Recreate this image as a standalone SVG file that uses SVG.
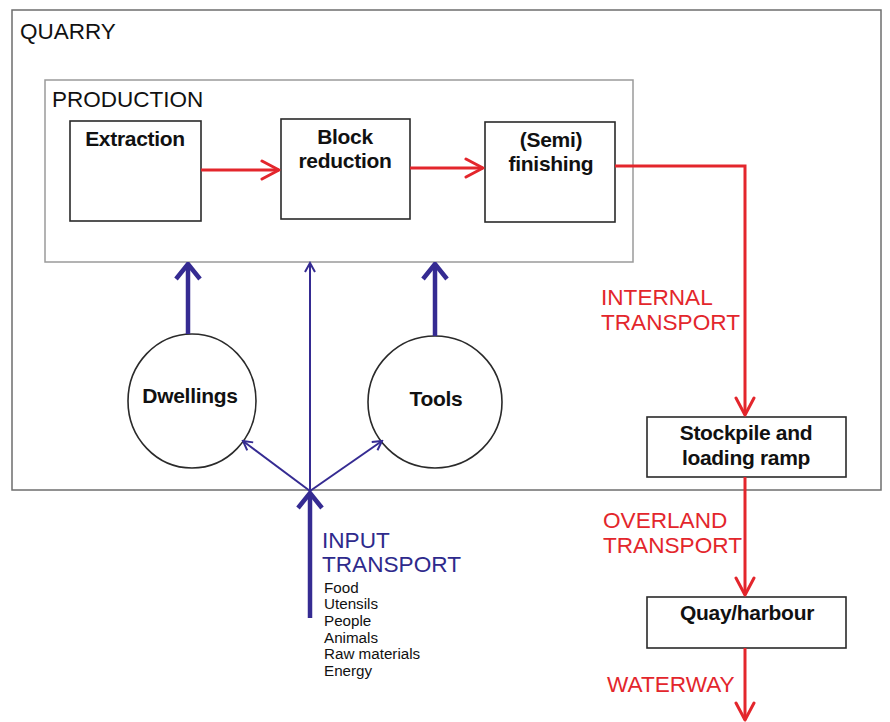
<svg xmlns="http://www.w3.org/2000/svg" width="890" height="722" viewBox="0 0 890 722">
<style>
.bg{fill:#fff}
.frame{fill:none;stroke:#6e6e6e;stroke-width:1.5}
.prod{fill:none;stroke:#9a9a9a;stroke-width:1.5}
.box{fill:#fff;stroke:#2a2a2a;stroke-width:1.6}
.circ{fill:#fff;stroke:#2a2a2a;stroke-width:1.6}
.lbl{font-family:"Liberation Sans",Arial,sans-serif;font-size:22.5px;fill:#111}
.b{font-family:"Liberation Sans",Arial,sans-serif;font-size:21px;font-weight:bold;fill:#111;text-anchor:middle;letter-spacing:-0.3px}
.red{font-family:"Liberation Sans",Arial,sans-serif;font-size:22.6px;fill:#e3262c}
.blue{font-family:"Liberation Sans",Arial,sans-serif;font-size:22.6px;fill:#2e2a8c}
.list{font-family:"Liberation Sans",Arial,sans-serif;font-size:15.2px;fill:#111}
.rl{fill:none;stroke:#e3262c;stroke-width:3}
.bt{fill:none;stroke:#352b92;stroke-width:2}
.bk{fill:none;stroke:#352b92;stroke-width:4.5}
</style>
<defs>
<marker id="ar" viewBox="-22 -12 24 24" refX="0" refY="0" markerWidth="24" markerHeight="24" markerUnits="userSpaceOnUse" orient="auto">
<path d="M-17,-9 L0,0 L-17,9" fill="none" stroke="#e3262c" stroke-width="3" stroke-linecap="round" stroke-linejoin="round"/>
</marker>
<marker id="ak" viewBox="-20 -16 22 32" refX="0" refY="0" markerWidth="22" markerHeight="32" markerUnits="userSpaceOnUse" orient="auto">
<path d="M-15,-12 L0,0 L-15,12" fill="none" stroke="#352b92" stroke-width="4.5" stroke-linejoin="miter"/>
</marker>
<marker id="at" viewBox="-12 -8 14 16" refX="0" refY="0" markerWidth="14" markerHeight="16" markerUnits="userSpaceOnUse" orient="auto">
<path d="M-9,-5 L0,0 L-9,5" fill="none" stroke="#352b92" stroke-width="2"/>
</marker>
</defs>
<rect class="bg" x="0" y="0" width="890" height="722"/>
<g id="quarry">
<rect class="frame" x="12" y="10" width="869" height="480"/>
<text class="lbl" x="20" y="39" font-size="23">QUARRY</text>
</g>
<g id="production">
<rect class="prod" x="45" y="80" width="588" height="182"/>
<text class="lbl" x="52" y="107">PRODUCTION</text>
</g>
<g id="extraction">
<rect class="box" x="70" y="121" width="131" height="100"/>
<text class="b" x="135" y="146">Extraction</text>
</g>
<g id="block-reduction">
<rect class="box" x="281" y="119" width="129" height="100"/>
<text class="b" x="345" y="144">Block</text>
<text class="b" x="345" y="168">reduction</text>
</g>
<g id="semi-finishing">
<rect class="box" x="485" y="122" width="130" height="100"/>
<text class="b" x="551" y="147">(Semi)</text>
<text class="b" x="551" y="171">finishing</text>
</g>
<g id="dwellings">
<ellipse class="circ" cx="192" cy="401" rx="64" ry="67"/>
<text class="b" x="190" y="403">Dwellings</text>
</g>
<g id="tools">
<ellipse class="circ" cx="435" cy="402" rx="67" ry="66"/>
<text class="b" x="436" y="406">Tools</text>
</g>
<g id="stockpile">
<rect class="box" x="647" y="417" width="199" height="60"/>
<text class="b" x="746" y="440">Stockpile and</text>
<text class="b" x="746" y="465">loading ramp</text>
</g>
<g id="quay">
<rect class="box" x="647" y="597" width="199" height="51"/>
<text class="b" x="747" y="620">Quay/harbour</text>
</g>
<g id="connectors">
<line class="rl" x1="201" y1="170" x2="279" y2="170" marker-end="url(#ar)"/>
<line class="rl" x1="410" y1="168" x2="483" y2="168" marker-end="url(#ar)"/>
<polyline class="rl" points="615,166 745,166 745,415" marker-end="url(#ar)"/>
<line class="rl" x1="745" y1="477" x2="745" y2="595" marker-end="url(#ar)"/>
<line class="rl" x1="745" y1="648" x2="745" y2="720" marker-end="url(#ar)"/>
<line class="bk" x1="188" y1="334" x2="188" y2="264" marker-end="url(#ak)"/>
<line class="bk" x1="435" y1="336" x2="435" y2="264" marker-end="url(#ak)"/>
<line class="bk" x1="310" y1="618" x2="310" y2="493" marker-end="url(#ak)"/>
<line class="bt" x1="310" y1="491" x2="310" y2="263" marker-end="url(#at)"/>
<line class="bt" x1="310" y1="491" x2="243" y2="441" marker-end="url(#at)"/>
<line class="bt" x1="310" y1="491" x2="382" y2="441" marker-end="url(#at)"/>
</g>
<g id="labels">
<text class="red" x="601" y="305">INTERNAL</text>
<text class="red" x="601" y="330">TRANSPORT</text>
<text class="red" x="603" y="528">OVERLAND</text>
<text class="red" x="603" y="553">TRANSPORT</text>
<text class="red" x="607" y="692">WATERWAY</text>
<text class="blue" x="322" y="548">INPUT</text>
<text class="blue" x="322" y="572">TRANSPORT</text>
<text class="list" x="324" y="592.5">Food</text>
<text class="list" x="324" y="609.2">Utensils</text>
<text class="list" x="324" y="625.9">People</text>
<text class="list" x="324" y="642.6">Animals</text>
<text class="list" x="324" y="659.3">Raw materials</text>
<text class="list" x="324" y="676">Energy</text>
</g>
</svg>
